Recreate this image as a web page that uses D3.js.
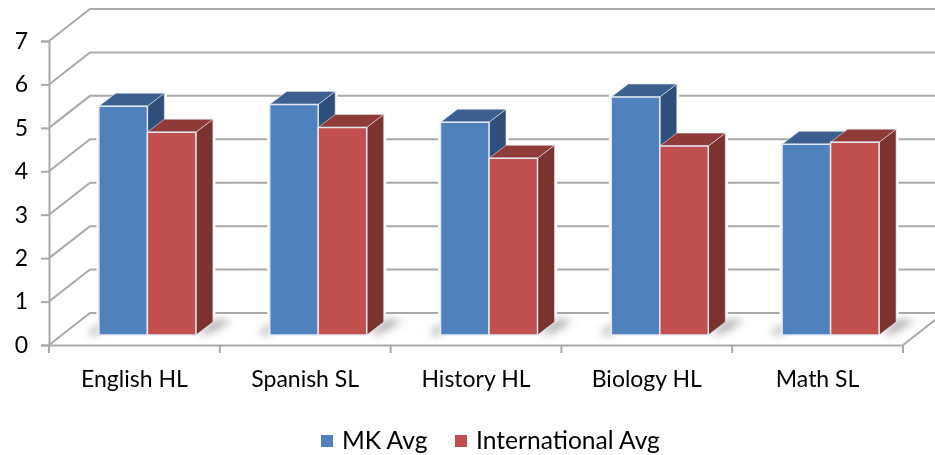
<!DOCTYPE html>
<html>
<head>
<meta charset="utf-8">
<script src="https://cdn.jsdelivr.net/npm/d3@7"></script>
<style>
    html, body { margin: 0; padding: 0; background: #fff; }
    svg { display: block; }
    text { font-family: Lato, "Open Sans", sans-serif; fill: #000; }
</style>
</head>
<body>
<div id="vis"></div>
<script>
( function() {
    var categories = ["English HL", "Spanish SL", "History HL", "Biology HL", "Math SL"];
    var seriesNames = ["MK Avg", "International Avg"];
    var mkAvg = [5.27, 5.31, 4.9, 5.48, 4.39];
    var intlAvg = [4.67, 4.78, 4.07, 4.35, 4.44];
    var yTicks = [0, 1, 2, 3, 4, 5, 6, 7];

    var width = 935, height = 455;

    var colors = {
        blue: "#4f81bd", blueTop: "#3a5f8e", blueSide: "#2f4f7a",
        red: "#c0504d", redTop: "#8f3a38", redSide: "#7b302e",
        grid: "#a9a9a9", edge: "#e4e8ef"
    };

    // front plane of the chart box, and how far back the wall sits
    var left = 49, right = 903, base = 345, top = 41;
    var wallX = 41, wallY = -32;
    // bars stand part way back on the floor
    var barShiftX = 13, barShiftY = -10;
    var barW = 48.5, barDepthX = 17, barDepthY = -13;

    var x = d3.scaleBand().domain(categories).range([left, right]);
    var y = d3.scaleLinear().domain([0, 7]).range([base, top]);
    var series = d3.scaleBand().domain(seriesNames).range([0, barW * 2]);

    var svg = d3.select("#vis")
        .append("svg")
        .attr("width", width)
        .attr("height", height);

    var defs = svg.append("defs");
    defs.append("filter").attr("id", "soft")
        .attr("x", "-5%").attr("y", "-5%").attr("width", "110%").attr("height", "110%")
        .append("feGaussianBlur").attr("stdDeviation", 0.6);
    defs.append("filter").attr("id", "shadowBlur")
        .attr("x", "-40%").attr("y", "-60%").attr("width", "180%").attr("height", "220%")
        .append("feGaussianBlur").attr("stdDeviation", 4);

    var chart = svg.append("g").attr("filter", "url(#soft)");

    // walls: one diagonal and one back line per tick
    var grid = chart.append("g")
        .attr("fill", "none")
        .attr("stroke", colors.grid)
        .attr("stroke-width", 2);

    grid.selectAll(".wall")
        .data(yTicks)
        .enter().append("polyline")
        .attr("class", "wall")
        .attr("points", function(d) {
            return [[left, y(d)], [left + wallX, y(d) + wallY], [right + wallX, y(d) + wallY]].join(" ");
        });

    // right edge of the floor
    grid.append("line")
        .attr("x1", right).attr("y1", base)
        .attr("x2", right + wallX).attr("y2", base + wallY);

    var rows = categories.map(function(c, i) {
        return [
            {cat: c, name: seriesNames[0], value: mkAvg[i], front: colors.blue, roof: colors.blueTop, side: colors.blueSide},
            {cat: c, name: seriesNames[1], value: intlAvg[i], front: colors.red, roof: colors.redTop, side: colors.redSide}
        ];
    });

    function barLeft(d) {
        return x(d.cat) + x.bandwidth() / 2 - barW + barShiftX + series(d.name);
    }
    function barTop(d) {
        return y(d.value) + barShiftY;
    }
    function sidePoints(d) {
        var r = barLeft(d) + barW, t = barTop(d), b = base + barShiftY;
        return [[r, t], [r + barDepthX, t + barDepthY], [r + barDepthX, b + barDepthY], [r, b]].join(" ");
    }
    function roofPoints(d) {
        var l = barLeft(d), t = barTop(d);
        return [[l, t], [l + barDepthX, t + barDepthY], [l + barW + barDepthX, t + barDepthY], [l + barW, t]].join(" ");
    }

    // white halo that clears the gridlines around each bar
    var halo = chart.append("g")
        .attr("fill", "#fff")
        .attr("stroke", "#fff")
        .attr("stroke-width", 5);
    var flat = d3.merge(rows);
    halo.selectAll(".haloFront")
        .data(flat)
        .enter().append("rect")
        .attr("class", "haloFront")
        .attr("x", barLeft)
        .attr("y", barTop)
        .attr("width", barW)
        .attr("height", function(d) { return base + barShiftY - barTop(d); });
    halo.selectAll(".haloSide")
        .data(flat)
        .enter().append("polygon")
        .attr("class", "haloSide")
        .attr("points", sidePoints);

    // floor shadows
    var shadows = chart.append("g")
        .attr("filter", "url(#shadowBlur)")
        .attr("fill", "#8c8c8c")
        .attr("opacity", 0.8);
    categories.forEach(function(c) {
        var x0 = x(c) + x.bandwidth() / 2 - barW + barShiftX;
        var y0 = base + barShiftY;
        shadows.append("polygon")
            .attr("points", [
                [x0 + barW * 2 + 2, y0 - 1],
                [x0 + barW * 2 + 20, y0 - 15],
                [x0 + barW * 2 + 36, y0 - 15],
                [x0 + barW * 2 + 14, y0 - 2]
            ].join(" "));
        shadows.append("polygon")
            .attr("points", [
                [x0 - 12, y0 - 1],
                [x0 + 1, y0 - 11],
                [x0 + 1, y0 - 1]
            ].join(" "));
    });

    var groups = chart.selectAll(".group")
        .data(rows)
        .enter().append("g")
        .attr("class", "group");

    var bars = groups.selectAll(".bar")
        .data(function(d) { return d; })
        .enter().append("g")
        .attr("class", "bar")
        .attr("stroke", colors.edge)
        .attr("stroke-width", 1.5)
        .attr("stroke-linejoin", "round");

    bars.append("polygon")
        .attr("fill", function(d) { return d.side; })
        .attr("stroke-width", 1)
        .attr("stroke-opacity", 0.6)
        .attr("points", sidePoints);

    bars.append("polygon")
        .attr("fill", function(d) { return d.roof; })
        .attr("stroke-width", 1)
        .attr("stroke-opacity", 0.6)
        .attr("points", roofPoints);

    bars.append("rect")
        .attr("fill", function(d) { return d.front; })
        .attr("x", barLeft)
        .attr("y", barTop)
        .attr("width", barW)
        .attr("height", function(d) { return base + barShiftY - barTop(d); });

    // axes
    var yAxis = d3.axisLeft(y).tickValues(yTicks).tickSize(8).tickPadding(13).tickFormat(d3.format("d"));
    var xAxis = d3.axisBottom(x).tickSize(0).tickPadding(26);

    var yG = chart.append("g")
        .attr("transform", "translate(" + left + ",0)")
        .call(yAxis);

    var xG = chart.append("g")
        .attr("transform", "translate(0," + base + ")")
        .call(xAxis);

    // ticks between the categories, not on them
    xG.selectAll(".sep")
        .data(categories.map(function(c) { return x(c); }).concat([right]))
        .enter().append("line")
        .attr("class", "sep")
        .attr("x1", function(d) { return d; })
        .attr("x2", function(d) { return d; })
        .attr("y1", 0)
        .attr("y2", 8);

    chart.selectAll(".domain, .tick line, .sep")
        .attr("stroke", colors.grid)
        .attr("stroke-width", 2);

    chart.selectAll(".tick text")
        .attr("font-size", 23)
        .style("font-family", "Lato, 'Open Sans', sans-serif");

    // legend
    var legendX = [321, 455];
    var legend = chart.selectAll(".legend")
        .data(seriesNames)
        .enter().append("g")
        .attr("class", "legend")
        .attr("transform", function(d, i) { return "translate(" + legendX[i] + ",435)"; });

    legend.append("rect")
        .attr("width", 12)
        .attr("height", 12)
        .attr("fill", function(d, i) { return i === 0 ? colors.blue : colors.red; });

    legend.append("text")
        .attr("x", 21)
        .attr("y", 14)
        .attr("font-size", 24.6)
        .text(function(d) { return d; });
}) ();
</script>
</body>
</html>
